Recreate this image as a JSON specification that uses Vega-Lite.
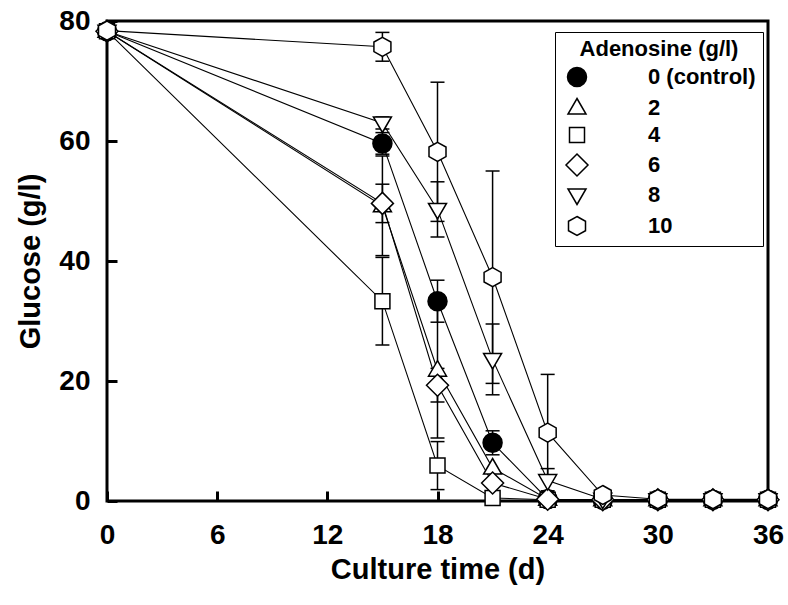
{
  "$schema": "https://vega.github.io/schema/vega-lite/v6.json",
  "width": 661,
  "height": 480,
  "autosize": {"type": "none"},
  "padding": {"left": 107, "top": 21, "right": 20, "bottom": 104},
  "background": "white",
  "config": {
    "view": {"stroke": "black", "strokeWidth": 3},
    "font": "Liberation Sans",
    "axis": {
      "domain": false,
      "grid": false,
      "labelFont": "Liberation Sans",
      "labelFontWeight": "bold",
      "labelFontSize": 28,
      "labelColor": "black",
      "titleFont": "Liberation Sans",
      "titleFontWeight": "bold",
      "titleFontSize": 29,
      "titleColor": "black"
    }
  },
  "datasets": {
    "glucose": [
      {"series": "0 (control)", "t": 0, "g": 78.3},
      {"series": "0 (control)", "t": 15, "g": 59.6, "lo": 57.8, "hi": 61.4},
      {"series": "0 (control)", "t": 18, "g": 33.3, "lo": 29.8, "hi": 36.8},
      {"series": "0 (control)", "t": 21, "g": 9.7, "lo": 7.7, "hi": 11.7},
      {"series": "0 (control)", "t": 24, "g": 0.3},
      {"series": "0 (control)", "t": 27, "g": 0.2},
      {"series": "0 (control)", "t": 30, "g": 0.2},
      {"series": "0 (control)", "t": 33, "g": 0.2},
      {"series": "0 (control)", "t": 36, "g": 0.2},
      {"series": "2", "t": 0, "g": 78.3},
      {"series": "2", "t": 15, "g": 49.2, "lo": 40.9, "hi": 57.5},
      {"series": "2", "t": 18, "g": 21.8, "lo": 10.5, "hi": 33.1},
      {"series": "2", "t": 21, "g": 5.5},
      {"series": "2", "t": 24, "g": 0.3},
      {"series": "2", "t": 27, "g": 0.2},
      {"series": "2", "t": 30, "g": 0.2},
      {"series": "2", "t": 33, "g": 0.2},
      {"series": "2", "t": 36, "g": 0.2},
      {"series": "4", "t": 0, "g": 78.3},
      {"series": "4", "t": 15, "g": 33.3, "lo": 26.0, "hi": 40.6},
      {"series": "4", "t": 18, "g": 5.9, "lo": 1.9, "hi": 9.9},
      {"series": "4", "t": 21, "g": 0.5},
      {"series": "4", "t": 24, "g": 0.2},
      {"series": "4", "t": 27, "g": 0.2},
      {"series": "4", "t": 30, "g": 0.2},
      {"series": "4", "t": 33, "g": 0.2},
      {"series": "4", "t": 36, "g": 0.2},
      {"series": "6", "t": 0, "g": 78.3},
      {"series": "6", "t": 15, "g": 49.6, "lo": 46.4, "hi": 52.8},
      {"series": "6", "t": 18, "g": 19.3, "lo": 16.5, "hi": 22.1},
      {"series": "6", "t": 21, "g": 3.0},
      {"series": "6", "t": 24, "g": 0.3},
      {"series": "6", "t": 27, "g": 0.2},
      {"series": "6", "t": 30, "g": 0.2},
      {"series": "6", "t": 33, "g": 0.2},
      {"series": "6", "t": 36, "g": 0.2},
      {"series": "8", "t": 0, "g": 78.3},
      {"series": "8", "t": 15, "g": 63.0, "lo": 62.0, "hi": 64.0},
      {"series": "8", "t": 18, "g": 48.6, "lo": 44.0, "hi": 53.2},
      {"series": "8", "t": 21, "g": 23.6, "lo": 17.7, "hi": 29.5},
      {"series": "8", "t": 24, "g": 3.4, "lo": 1.4, "hi": 5.4},
      {"series": "8", "t": 27, "g": 0.3},
      {"series": "8", "t": 30, "g": 0.2},
      {"series": "8", "t": 33, "g": 0.2},
      {"series": "8", "t": 36, "g": 0.2},
      {"series": "10", "t": 0, "g": 78.4},
      {"series": "10", "t": 15, "g": 75.7, "lo": 73.3, "hi": 78.1},
      {"series": "10", "t": 18, "g": 58.2, "lo": 46.6, "hi": 69.8},
      {"series": "10", "t": 21, "g": 37.3, "lo": 19.6, "hi": 55.0},
      {"series": "10", "t": 24, "g": 11.4, "lo": 1.7, "hi": 21.1},
      {"series": "10", "t": 27, "g": 1.0},
      {"series": "10", "t": 30, "g": 0.3},
      {"series": "10", "t": 33, "g": 0.3},
      {"series": "10", "t": 36, "g": 0.3}
    ]
  },
  "data": {"name": "glucose"},
  "encoding": {
    "x": {
      "field": "t",
      "type": "quantitative",
      "scale": {"domain": [0, 36], "nice": false, "zero": false},
      "axis": {
        "values": [0, 6, 12, 18, 24, 30, 36],
        "offset": -10,
        "ticks": true,
        "tickSize": 10,
        "tickWidth": 3,
        "tickColor": "#000000",
        "labelPadding": 20,
        "labelFlush": false,
        "titlePadding": 6,
        "title": "Culture time (d)"
      }
    },
    "y": {
      "field": "g",
      "type": "quantitative",
      "scale": {"domain": [0, 80], "nice": false},
      "axis": {
        "values": [0, 20, 40, 60, 80],
        "offset": -10,
        "ticks": true,
        "tickSize": 10,
        "tickWidth": 3,
        "tickColor": "#000000",
        "labelPadding": 17,
        "labelFlush": false,
        "titlePadding": 13,
        "title": "Glucose (g/l)"
      }
    }
  },
  "layer": [
    {
      "transform": [{"filter": "isValid(datum.lo)"}],
      "mark": {"type": "rule", "color": "black", "strokeWidth": 1.5},
      "encoding": {
        "y": {
          "field": "lo",
          "type": "quantitative",
          "scale": {"domain": [0, 80], "nice": false},
          "axis": {
            "values": [0, 20, 40, 60, 80],
            "offset": -10,
            "ticks": true,
            "tickSize": 10,
            "tickWidth": 3,
            "tickColor": "#000000",
            "labelPadding": 17,
            "labelFlush": false,
            "titlePadding": 13,
            "title": "Glucose (g/l)"
          }
        },
        "y2": {"field": "hi"}
      }
    },
    {
      "transform": [{"filter": "isValid(datum.lo)"}],
      "mark": {"type": "tick", "orient": "horizontal", "color": "black", "size": 14, "thickness": 1.5, "opacity": 1},
      "encoding": {
        "y": {
          "field": "lo",
          "type": "quantitative",
          "scale": {"domain": [0, 80], "nice": false},
          "axis": {
            "values": [0, 20, 40, 60, 80],
            "offset": -10,
            "ticks": true,
            "tickSize": 10,
            "tickWidth": 3,
            "tickColor": "#000000",
            "labelPadding": 17,
            "labelFlush": false,
            "titlePadding": 13,
            "title": "Glucose (g/l)"
          }
        }
      }
    },
    {
      "transform": [{"filter": "isValid(datum.hi)"}],
      "mark": {"type": "tick", "orient": "horizontal", "color": "black", "size": 14, "thickness": 1.5, "opacity": 1},
      "encoding": {
        "y": {
          "field": "hi",
          "type": "quantitative",
          "scale": {"domain": [0, 80], "nice": false},
          "axis": {
            "values": [0, 20, 40, 60, 80],
            "offset": -10,
            "ticks": true,
            "tickSize": 10,
            "tickWidth": 3,
            "tickColor": "#000000",
            "labelPadding": 17,
            "labelFlush": false,
            "titlePadding": 13,
            "title": "Glucose (g/l)"
          }
        }
      }
    },
    {
      "mark": {"type": "line", "color": "black", "strokeWidth": 1.1},
      "encoding": {"detail": {"field": "series"}}
    },
    {
      "mark": {"type": "point", "size": 400, "stroke": "black", "strokeWidth": 1.5, "opacity": 1},
      "encoding": {
        "shape": {
          "field": "series",
          "type": "nominal",
          "scale": {
            "domain": ["0 (control)", "2", "4", "6", "8", "10"],
            "range": [
              "M0.95,0A0.95,0.95,0,1,1,-0.95,0A0.95,0.95,0,1,1,0.95,0Z",
              "M0,-0.95L0.9,0.6L-0.9,0.6Z",
              "M-0.75,-0.75L0.75,-0.75L0.75,0.75L-0.75,0.75Z",
              "M0,-1.1L1.1,0L0,1.1L-1.1,0Z",
              "M0,0.95L0.9,-0.6L-0.9,-0.6Z",
              "M0,-0.95L0.85,-0.475L0.85,0.475L0,0.95L-0.85,0.475L-0.85,-0.475Z"
            ]
          },
          "legend": {
            "title": "Adenosine (g/l)",
            "orient": "none",
            "legendX": 448,
            "legendY": 11,
            "strokeColor": "black",
            "padding": 7,
            "symbolOffset": 4,
            "labelOffset": 60,
            "rowPadding": 5,
            "titlePadding": 5,
            "symbolSize": 400,
            "titleAnchor": "middle",
            "titleFont": "Liberation Sans",
            "titleFontWeight": "bold",
            "titleFontSize": 22,
            "titleColor": "black",
            "labelFont": "Liberation Sans",
            "labelFontWeight": "bold",
            "labelFontSize": 22,
            "labelColor": "black",
            "encode": {
              "symbols": {
                "update": {
                  "stroke": {"value": "black"},
                  "strokeWidth": {"value": 1.5},
                  "opacity": {"value": 1}
                }
              }
            }
          }
        },
        "fill": {
          "field": "series",
          "type": "nominal",
          "scale": {
            "domain": ["0 (control)", "2", "4", "6", "8", "10"],
            "range": ["black", "white", "white", "white", "white", "white"]
          },
          "legend": {
            "title": "Adenosine (g/l)",
            "orient": "none",
            "legendX": 448,
            "legendY": 11,
            "strokeColor": "black",
            "padding": 7,
            "symbolOffset": 4,
            "labelOffset": 60,
            "rowPadding": 5,
            "titlePadding": 5,
            "symbolSize": 400,
            "titleAnchor": "middle",
            "titleFont": "Liberation Sans",
            "titleFontWeight": "bold",
            "titleFontSize": 22,
            "titleColor": "black",
            "labelFont": "Liberation Sans",
            "labelFontWeight": "bold",
            "labelFontSize": 22,
            "labelColor": "black",
            "encode": {
              "symbols": {
                "update": {
                  "stroke": {"value": "black"},
                  "strokeWidth": {"value": 1.5},
                  "opacity": {"value": 1}
                }
              }
            }
          }
        }
      }
    }
  ]
}
